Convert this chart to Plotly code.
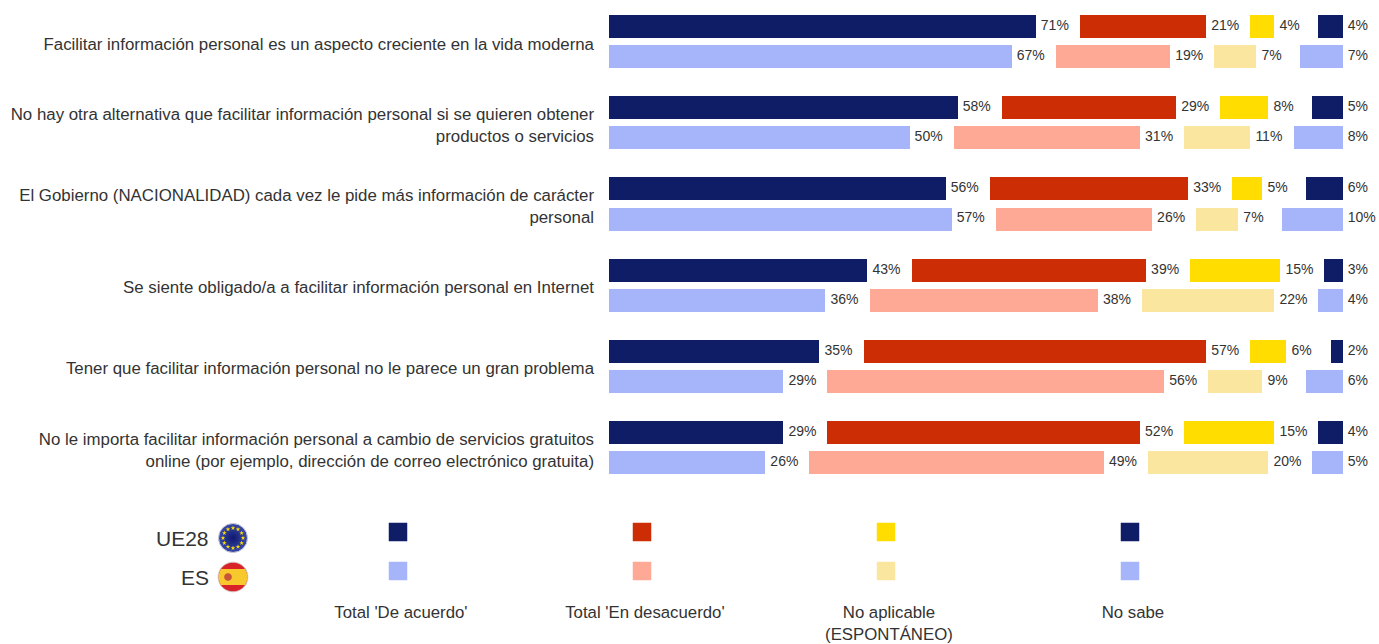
import numpy as np
import plotly.graph_objects as go

W, H = 1379, 644

statements = [
    "Facilitar información personal es un aspecto creciente en la vida moderna",
    "No hay otra alternativa que facilitar información personal si se quieren obtener<br>productos o servicios",
    "El Gobierno (NACIONALIDAD) cada vez le pide más información de carácter<br>personal",
    "Se siente obligado/a a facilitar información personal en Internet",
    "Tener que facilitar información personal no le parece un gran problema",
    "No le importa facilitar información personal a cambio de servicios gratuitos<br>online (por ejemplo, dirección de correo electrónico gratuita)",
]
answers = ["Total 'De acuerdo'", "Total 'En desacuerdo'", "No aplicable<br>(ESPONTÁNEO)", "No sabe"]
groups = ["UE28", "ES"]

eu_agree = [71, 58, 56, 43, 35, 29]
eu_disagree = [21, 29, 33, 39, 57, 52]
eu_na = [4, 8, 5, 15, 6, 15]
eu_dk = [4, 5, 6, 3, 2, 4]

es_agree = [67, 50, 57, 36, 29, 26]
es_disagree = [19, 31, 26, 38, 56, 49]
es_na = [7, 11, 7, 22, 9, 20]
es_dk = [7, 8, 10, 4, 6, 5]

eu_colors = ["#0E1D66", "#CC2D04", "#FFDD00", "#0E1D66"]
es_colors = ["#A6B5FA", "#FDA996", "#FBE6A0", "#A6B5FA"]

FONT = "Liberation Sans"
TXT = "#333333"
SCALE = 6.01      # pixels per percentage point
GAP = 7.35        # room between the segments, in points
OFFSET = 0.185
BAR_W = 0.283
LABEL_PAD = 0.85  # value label distance from its bar, in points

fig = go.Figure()


def add_group(series, colors, off, name):
    base = np.zeros(len(statements))
    rows = np.arange(len(statements)) + off
    for vals, col, ans in zip(series, colors, answers):
        vals = np.array(vals, dtype=float)
        fig.add_trace(go.Bar(
            y=rows, x=vals, base=base, orientation="h", width=BAR_W,
            marker=dict(color=col, line=dict(width=0)),
            name=f"{name} {ans}", showlegend=False,
        ))
        fig.add_trace(go.Scatter(
            y=rows, x=base + vals + LABEL_PAD, mode="text",
            text=[f"{int(v)}%" for v in vals], textposition="middle right",
            textfont=dict(family=FONT, size=14, color=TXT), cliponaxis=False,
            name=f"{name} {ans} etiqueta", showlegend=False, hoverinfo="skip",
        ))
        base = base + vals + GAP


add_group([eu_agree, eu_disagree, eu_na, eu_dk], eu_colors, -OFFSET, "UE28")
add_group([es_agree, es_disagree, es_na, es_dk], es_colors, OFFSET, "ES")

# legend keys, on their own small axes
for gi, (group, colors) in enumerate(zip(groups, [eu_colors, es_colors])):
    fig.add_trace(go.Scatter(
        x=list(range(len(answers))), y=[gi] * 4, mode="markers", xaxis="x2", yaxis="y2",
        marker=dict(symbol="square", size=18.5, color=colors, line=dict(width=0)),
        name=group, showlegend=False, cliponaxis=False,
    ))

# flags, drawn on a page-sized axis
fig.add_trace(go.Scatter(
    x=[233], y=[538], mode="markers", xaxis="x3", yaxis="y3", showlegend=False,
    marker=dict(size=29, color="#3A4CA8", gradient=dict(type="radial", color="#10186E"),
                line=dict(color="#C9C9D6", width=1)),
))
ang = np.linspace(0, 2 * np.pi, 12, endpoint=False)
fig.add_trace(go.Scatter(
    x=233 + 10 * np.cos(ang), y=538 + 10 * np.sin(ang), mode="markers",
    xaxis="x3", yaxis="y3", showlegend=False,
    marker=dict(symbol="star", size=3.5, color="#FFDD00"),
))


def px_path(points):
    s = "M " + " L ".join(f"{x / W:.5f},{1 - y / H:.5f}" for x, y in points) + " Z"
    return s


def disc(cx, cy, r, n=60):
    t = np.linspace(0, 2 * np.pi, n, endpoint=False)
    return list(zip(cx + r * np.cos(t), cy + r * np.sin(t)))


def band(cx, cy, r, half, n=24):
    a = np.arcsin(half / r)
    t1 = np.linspace(-a, a, n)
    t2 = np.linspace(np.pi - a, np.pi + a, n)
    return list(zip(cx + r * np.cos(t1), cy + r * np.sin(t1))) + list(zip(cx + r * np.cos(t2), cy + r * np.sin(t2)))


shapes = [
    dict(type="path", xref="paper", yref="paper", path=px_path(disc(233, 577, 14.8)), fillcolor="#D8232A",
         line=dict(color="#D5C9C9", width=1), layer="above"),
    dict(type="path", xref="paper", yref="paper", path=px_path(band(233, 577, 14.3, 8)), fillcolor="#F7C92C",
         line=dict(width=0), layer="above"),
    dict(type="path", xref="paper", yref="paper", path=px_path(disc(228, 577, 3.8)), fillcolor="#C8553A",
         line=dict(width=0), layer="above"),
]

annotations = [
    dict(text=g, x=211 / W, y=1 - yy / H, xref="paper", yref="paper", xanchor="right", yanchor="middle",
         showarrow=False, font=dict(family=FONT, size=21, color=TXT))
    for g, yy in zip(groups, [538, 577])
]

fig.update_layout(
    width=W, height=H, margin=dict(l=0, r=0, t=0, b=0, autoexpand=False),
    paper_bgcolor="white", plot_bgcolor="rgba(0,0,0,0)",
    barmode="overlay", showlegend=False, bargap=0,
    shapes=shapes, annotations=annotations,
    font=dict(family=FONT, color=TXT),
    xaxis=dict(domain=[609 / W, 1], range=[0, (W - 609) / SCALE], visible=False, fixedrange=True, automargin=False),
    yaxis=dict(domain=[1 - 488.1 / H, 1 - 0.9 / H], range=[5.5, -0.5],
               tickmode="array", tickvals=[i + 0.028 for i in range(6)], ticktext=statements,
               tickfont=dict(family=FONT, size=16.85, color=TXT),
               ticks="", showline=False, showgrid=False, zeroline=False,
               ticklabelstandoff=14, fixedrange=True, automargin=False),
    xaxis2=dict(domain=[276 / W, 1252 / W], range=[-0.5, 3.5], anchor="y2",
                tickmode="array", tickvals=[i + 0.012 for i in range(4)], ticktext=answers,
                ticks="", showline=False, showgrid=False, zeroline=False,
                tickfont=dict(family=FONT, size=16.8, color=TXT), ticklabelstandoff=10, fixedrange=True, automargin=False),
    yaxis2=dict(domain=[1 - 590.5 / H, 1 - 512.5 / H], range=[1.5, -0.5], anchor="x2", visible=False, fixedrange=True, automargin=False),
    xaxis3=dict(domain=[0, 1], range=[0, W], anchor="y3", visible=False, fixedrange=True, automargin=False),
    yaxis3=dict(domain=[0, 1], range=[H, 0], anchor="x3", visible=False, fixedrange=True, automargin=False),
)

fig.write_html("out.html", config=dict(displayModeBar=False),
               post_script="document.body.style.margin='0';document.body.style.overflow='hidden';")
